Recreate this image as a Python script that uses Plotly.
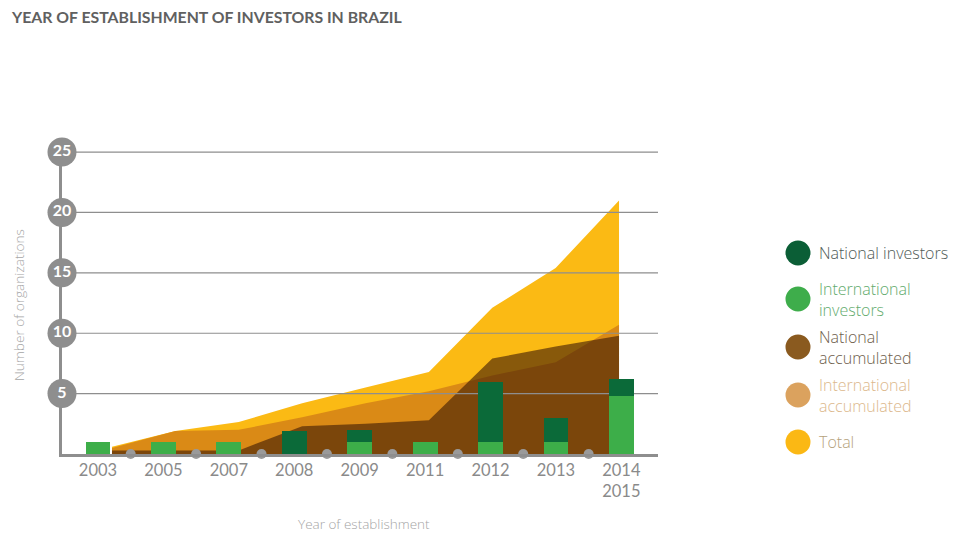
import plotly.graph_objects as go

# ---------------- data ----------------
years = ["2003", "2005", "2007", "2008", "2009", "2011", "2012", "2013", "2014<br>2015"]
international_investors = [1, 1, 1, 0, 1, 1, 1, 1, 4.8]
national_investors = [0, 0, 0, 1.9, 1, 0, 5, 2, 1.4]
total_accum = [0.6, 1.9, 2.65, 4.2, 5.5, 6.8, 12.1, 15.4, 21.0]
international_accum = [0.5, 1.9, 2.0, 3.05, 4.2, 5.2, 6.5, 7.6, 10.7]
national_accum = [0.3, 0.3, 0.3, 2.3, 2.5, 2.8, 7.9, 8.9, 9.8]
y_ticks = [5, 10, 15, 20, 25]
legend_names = ["National investors", "International<br>investors", "National<br>accumulated",
                "International<br>accumulated", "Total"]

# ---------------- styles ----------------
C_NAT = "#0b6a39"
C_INT = "#3dae49"
C_TOTAL = "#fbba14"
C_INT_ACC = "#da8a16"
C_NAT_ACC = "rgba(60,25,5,0.6)"
GREY = "#8e8e8e"
legend_dot_colors = ["#0b5e36", "#3ead4b", "#8a5a1f", "#dba25e", "#fbb814"]
legend_text_colors = ["#4f5b57", "#62ab6d", "#6e5e4c", "#dcb88c", "#b5a27c"]
FONT = "Lato"
FONT2 = "Open Sans"

idx = list(range(len(years)))
area_range = [-0.789, 8.615]
bar_range = [-0.55, 8.56]

fig = go.Figure()

# accumulated areas (main subplot, drawn under bars)
fig.add_trace(go.Scatter(x=idx, y=total_accum, mode="lines", fill="tozeroy",
                         line=dict(width=0, color=C_TOTAL), fillcolor=C_TOTAL,
                         hoverinfo="skip", showlegend=False))
fig.add_trace(go.Scatter(x=idx, y=international_accum, mode="lines", fill="tozeroy",
                         line=dict(width=0, color=C_INT_ACC), fillcolor=C_INT_ACC,
                         hoverinfo="skip", showlegend=False))
fig.add_trace(go.Scatter(x=idx, y=national_accum, mode="lines", fill="tozeroy",
                         line=dict(width=0, color=C_NAT_ACC), fillcolor=C_NAT_ACC,
                         hoverinfo="skip", showlegend=False))

# grid lines drawn above the areas
gx, gy = [], []
for v in y_ticks:
    gx += [area_range[0], area_range[1], None]
    gy += [v, v, None]
fig.add_trace(go.Scatter(x=gx, y=gy, mode="lines", line=dict(color=GREY, width=1.2),
                         hoverinfo="skip", showlegend=False))

# y tick circles
fig.add_trace(go.Scatter(x=[area_range[0]] * len(y_ticks), y=y_ticks, mode="markers+text",
                         text=[str(v) for v in y_ticks], textposition="middle center",
                         marker=dict(size=29, color=GREY),
                         textfont=dict(family=FONT, size=16, color="white", weight="bold"),
                         cliponaxis=False, hoverinfo="skip", showlegend=False))

# stacked bars (overlay subplot, drawn on top)
fig.add_trace(go.Bar(x=idx, y=international_investors, xaxis="x2", yaxis="y",
                     marker=dict(color=C_INT, line=dict(width=0)), width=0.38,
                     hoverinfo="skip", showlegend=False))
fig.add_trace(go.Bar(x=idx, y=national_investors, xaxis="x2", yaxis="y",
                     marker=dict(color=C_NAT, line=dict(width=0)), width=0.38,
                     hoverinfo="skip", showlegend=False))

# grey dots between categories on the baseline
fig.add_trace(go.Scatter(x=[i + 0.5 for i in idx[:-1]], y=[0] * (len(idx) - 1), xaxis="x2", yaxis="y",
                         mode="markers", marker=dict(size=10, color="#9a9a9a"),
                         cliponaxis=False, hoverinfo="skip", showlegend=False))

# ---------------- layout ----------------
L, R, T, B = 62, 303, 140, 80
W, H = 961, 534
pw, ph = W - L - R, H - T - B

def px_to_paper_x(px):
    return (px - L) / pw

def px_to_paper_y(py):
    return (H - B - py) / ph

shapes = []
annotations = []
legend_y = [253, 299, 347, 395, 442]
r = 12.5
for name, yc, dc, tc in zip(legend_names, legend_y, legend_dot_colors, legend_text_colors):
    shapes.append(dict(type="circle", xref="paper", yref="paper",
                       x0=px_to_paper_x(798 - r), x1=px_to_paper_x(798 + r),
                       y0=px_to_paper_y(yc + r), y1=px_to_paper_y(yc - r),
                       fillcolor=dc, line=dict(width=0)))
    annotations.append(dict(text=name, xref="paper", yref="paper",
                            x=px_to_paper_x(817), y=px_to_paper_y(yc),
                            xanchor="left", yanchor="middle", align="left", showarrow=False,
                            font=dict(family=FONT2, size=16, color=tc, weight=300)))

annotations.append(dict(text="Number of organizations", xref="paper", yref="paper",
                        x=px_to_paper_x(18), y=px_to_paper_y(305), textangle=-90,
                        xanchor="center", yanchor="middle", showarrow=False,
                        font=dict(family=FONT2, size=13.6, color="#a5a5a5", weight=300)))
annotations.append(dict(text="Year of establishment", xref="paper", yref="paper",
                        x=px_to_paper_x(364), y=px_to_paper_y(524),
                        xanchor="center", yanchor="middle", showarrow=False,
                        font=dict(family=FONT2, size=13.5, color="#a5a5a5", weight=300)))

fig.update_layout(
    width=W, height=H, autosize=False,
    margin=dict(l=L, r=R, t=T, b=B),
    paper_bgcolor="white", plot_bgcolor="white",
    barmode="stack",
    title=dict(text="YEAR OF ESTABLISHMENT OF INVESTORS IN BRAZIL",
               x=12 / W, y=1 - 17 / H, xref="container", yref="container",
               xanchor="left", yanchor="middle",
               font=dict(family=FONT, size=15.8, color="#606060", weight="bold")),
    xaxis=dict(range=area_range, showgrid=False, zeroline=False, showticklabels=False,
               showline=True, linewidth=3, linecolor=GREY, layer="above traces", fixedrange=True),
    xaxis2=dict(range=bar_range, overlaying="x", side="bottom", showgrid=False, zeroline=False,
                showline=False, tickvals=idx, ticktext=years, ticks="", ticklabelstandoff=4,
                tickfont=dict(family=FONT, size=16.5, color="#8a8a8a"), fixedrange=True),
    yaxis=dict(range=[0, 26], showgrid=False, zeroline=False, showticklabels=False,
               showline=True, linewidth=3, linecolor=GREY, layer="below traces", fixedrange=True),
    shapes=shapes,
    annotations=annotations,
)

fig.write_html("out.html", config={"displayModeBar": False})
